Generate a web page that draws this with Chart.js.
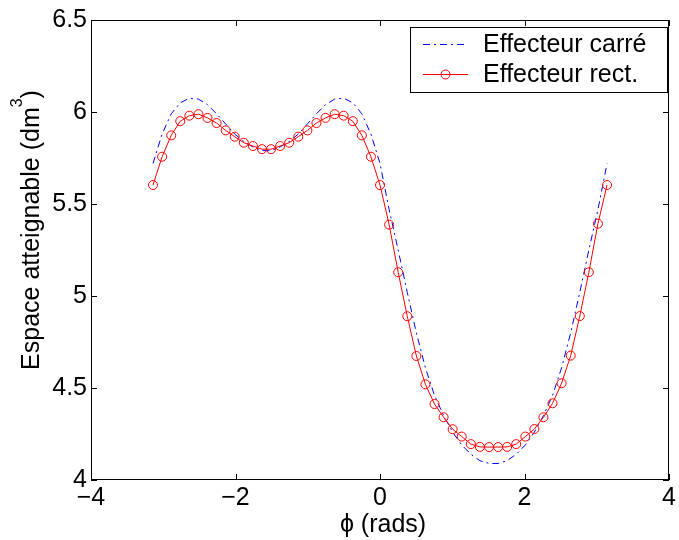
<!DOCTYPE html>
<html><head><meta charset="utf-8">
<script src="https://cdn.jsdelivr.net/npm/chart.js@4/dist/chart.umd.min.js"></script>
<style>html,body{margin:0;padding:0;background:#fff;}canvas{display:block;}</style>
</head><body>
<canvas id="c" width="679" height="540"></canvas>
<script>
// ---- data ----
const phi = [-3.142,-3.016,-2.890,-2.765,-2.639,-2.513,-2.388,-2.262,-2.136,-2.011,-1.885,-1.759,-1.634,-1.508,-1.382,-1.257,-1.131,-1.005,-0.880,-0.754,-0.628,-0.503,-0.377,-0.251,-0.126,0.000,0.126,0.251,0.377,0.503,0.628,0.754,0.880,1.005,1.131,1.257,1.382,1.508,1.634,1.759,1.885,2.011,2.136,2.262,2.388,2.513,2.639,2.765,2.890,3.016,3.142];
const effecteurCarre = [5.72,5.88,5.99,6.05,6.075,6.07,6.04,5.99,5.935,5.88,5.84,5.81,5.79,5.79,5.81,5.84,5.88,5.935,5.99,6.04,6.07,6.075,6.05,5.99,5.88,5.72,
  5.47,5.25,5.02,4.80,4.61,4.46,4.35,4.26,4.19,4.14,4.105,4.09,4.09,4.105,4.14,4.19,4.26,4.35,4.46,4.61,4.80,5.02,5.25,5.47,5.72];
const effecteurRect = [5.603,5.757,5.873,5.950,5.980,5.988,5.968,5.940,5.900,5.866,5.833,5.815,5.798,5.798,5.815,5.833,5.866,5.900,5.940,5.968,5.988,5.980,5.950,5.873,5.757,5.603,
  5.388,5.129,4.890,4.674,4.520,4.413,4.341,4.276,4.236,4.195,4.180,4.179,4.179,4.180,4.195,4.236,4.277,4.341,4.417,4.526,4.676,4.891,5.129,5.393,5.603];
const xTicks = [-4,-2,0,2,4];
const yTicks = [4,4.5,5,5.5,6,6.5];
const seriesNames = ['Effecteur carré','Effecteur rect.'];
const xTitle = 'ϕ (rads)';
const yTitleMain = 'Espace atteignable (dm';
const yTitleSup = '3';
const yTitleEnd = ')';

const FONT = '"Liberation Sans", Arial, Helvetica, sans-serif';
const FS = 25;
const blueDash = [7,4,2,4];

const framePlugin = {
  id: 'frame',
  afterDraw(chart) {
    const ctx = chart.ctx, a = chart.chartArea;
    const xs = chart.scales.x, ys = chart.scales.y;
    ctx.save();
    ctx.strokeStyle = '#000';
    ctx.lineWidth = 1;
    // box
    ctx.strokeRect(Math.round(a.left)+0.5, Math.round(a.top)+0.5, Math.round(a.right-a.left)-1, Math.round(a.bottom-a.top)-1);
    // inward ticks
    const L = 6;
    ctx.beginPath();
    xTicks.forEach(v => {
      const px = Math.round(xs.getPixelForValue(v)) + 0.5;
      ctx.moveTo(px, a.bottom); ctx.lineTo(px, a.bottom - L);
      ctx.moveTo(px, a.top); ctx.lineTo(px, a.top + L);
    });
    yTicks.forEach(v => {
      const py = Math.round(ys.getPixelForValue(v)) + 0.5;
      ctx.moveTo(a.left, py); ctx.lineTo(a.left + L, py);
      ctx.moveTo(a.right, py); ctx.lineTo(a.right - L, py);
    });
    ctx.stroke();

    // legend
    const bx = 410.5, by = 27.5, bw = 257, bh = 65;
    ctx.fillStyle = '#fff';
    ctx.fillRect(bx, by, bw, bh);
    ctx.strokeStyle = '#000';
    ctx.strokeRect(bx, by, bw, bh);
    ctx.strokeStyle = 'rgb(0,0,255)';
    ctx.setLineDash(blueDash);
    ctx.beginPath(); ctx.moveTo(423, 44.5); ctx.lineTo(466, 44.5); ctx.stroke();
    ctx.setLineDash([]);
    ctx.strokeStyle = 'rgb(255,0,0)';
    ctx.beginPath(); ctx.moveTo(423, 74.5); ctx.lineTo(468, 74.5); ctx.stroke();
    ctx.beginPath(); ctx.arc(445.5, 74.5, 4.5, 0, Math.PI*2); ctx.stroke();
    ctx.fillStyle = '#000';
    ctx.font = FS + 'px ' + FONT;
    ctx.textAlign = 'left';
    ctx.textBaseline = 'alphabetic';
    ctx.fillText(seriesNames[0], 483, 52);
    ctx.fillText(seriesNames[1], 483, 82);

    // x title
    ctx.textAlign = 'center';
    ctx.fillText(xTitle, 383, 532);

    // y title (rotated, with superscript)
    ctx.save();
    ctx.translate(38.5, 230);
    ctx.rotate(-Math.PI/2);
    ctx.textAlign = 'left';
    ctx.font = FS + 'px ' + FONT;
    const w1 = ctx.measureText(yTitleMain).width;
    const w3 = ctx.measureText(yTitleEnd).width;
    ctx.font = '16px ' + FONT;
    const w2 = ctx.measureText(yTitleSup).width;
    let x0 = -(w1 + w2 + w3) / 2;
    ctx.font = FS + 'px ' + FONT;
    ctx.fillText(yTitleMain, x0, 0);
    ctx.font = '16px ' + FONT;
    ctx.fillText(yTitleSup, x0 + w1, -17);
    ctx.font = FS + 'px ' + FONT;
    ctx.fillText(yTitleEnd, x0 + w1 + w2, 0);
    ctx.restore();
    ctx.restore();
  }
};

const toPts = ys => phi.map((x, i) => ({x: x, y: ys[i]}));

new Chart(document.getElementById('c'), {
  type: 'scatter',
  data: {
    datasets: [
      {
        label: seriesNames[0],
        data: toPts(effecteurCarre),
        showLine: true,
        borderColor: 'rgb(0,0,255)',
        borderWidth: 1,
        borderDash: blueDash,
        pointRadius: 0,
        pointHoverRadius: 0,
        fill: false,
        order: 2
      },
      {
        label: seriesNames[1],
        data: toPts(effecteurRect),
        showLine: true,
        borderColor: 'rgb(255,0,0)',
        borderWidth: 1,
        pointRadius: 4.5,
        pointStyle: 'circle',
        pointBackgroundColor: 'rgba(0,0,0,0)',
        pointBorderColor: 'rgb(255,0,0)',
        pointBorderWidth: 1,
        fill: false,
        order: 1
      }
    ]
  },
  options: {
    responsive: false,
    animation: false,
    events: [],
    layout: { padding: { left: 0, top: 20, right: 5, bottom: 0 } },
    plugins: { legend: { display: false }, tooltip: { enabled: false } },
    scales: {
      x: {
        type: 'linear', min: -4, max: 4,
        afterFit(s) { s.height = 60; },
        afterBuildTicks(s) { s.ticks = xTicks.map(v => ({value: v})); },
        grid: { display: false, drawTicks: false },
        border: { display: false },
        ticks: {
          color: '#000', padding: 3, maxRotation: 0, autoSkip: false,
          font: { family: FONT, size: FS },
          callback: v => String(v).replace('-', '\u2212')
        }
      },
      y: {
        type: 'linear', min: 4, max: 6.5,
        afterFit(s) { s.width = 91; },
        afterBuildTicks(s) { s.ticks = yTicks.map(v => ({value: v})); },
        grid: { display: false, drawTicks: false },
        border: { display: false },
        ticks: {
          color: '#000', padding: 4, autoSkip: false,
          font: { family: FONT, size: FS },
          callback: v => String(v).replace('-', '\u2212')
        }
      }
    }
  },
  plugins: [framePlugin]
});
</script>
</body></html>
